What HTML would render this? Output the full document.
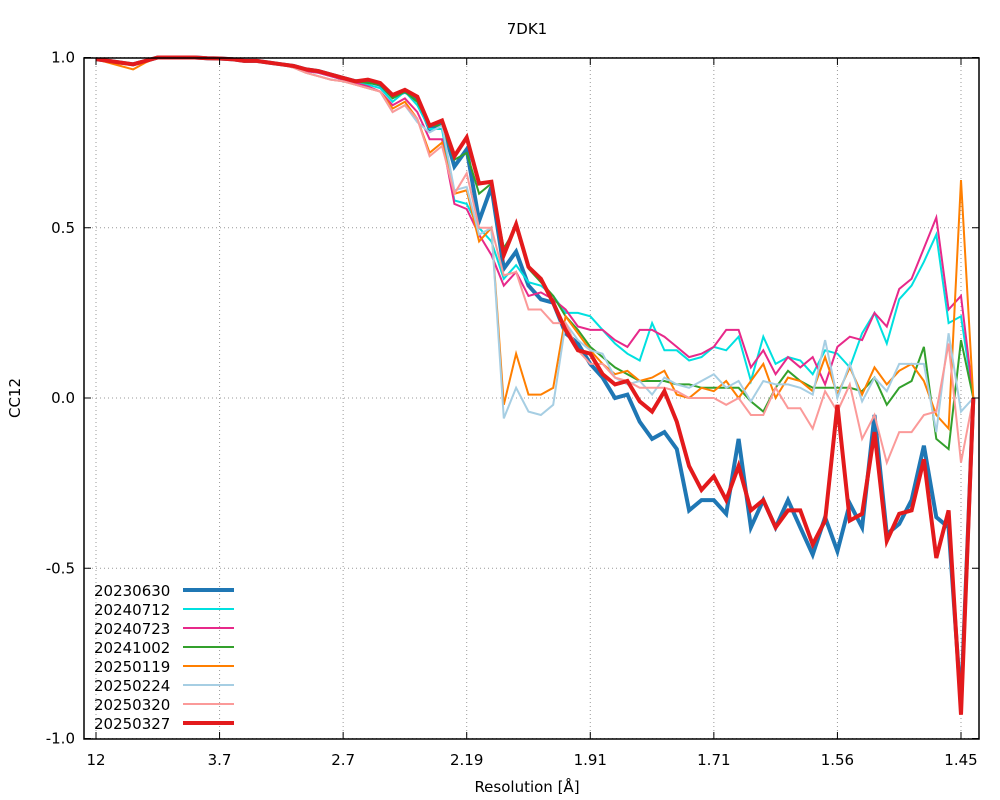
<!DOCTYPE html>
<html><head><meta charset="utf-8"><style>
body{margin:0;background:#fff;}
svg{display:block;font-family:"DejaVu Sans","Liberation Sans",sans-serif;}
</style></head><body>
<svg id="chart" width="1000" height="800" viewBox="0 0 1000 800">
<rect width="1000" height="800" fill="#fff"/>
<text x="527" y="34" font-size="15" text-anchor="middle">7DK1</text>
<text x="0" y="0" font-size="15" text-anchor="middle" transform="translate(20,398) rotate(-90)">CC12</text>
<text x="527" y="792" font-size="15" text-anchor="middle">Resolution [Å]</text>
<g id="grid"></g>
<g id="series"></g>
<rect x="84" y="58" width="895" height="681" fill="none" stroke="#000" stroke-width="1.5"/>
<g id="ticks"></g>
<g id="legend"></g>
</svg>
<script>
const xTickLabels = ["12","3.7","2.7","2.19","1.91","1.71","1.56","1.45"];
const xTickBins = [0,10,20,30,40,50,60,70];
const yTickValues = [1.0,0.5,0.0,-0.5,-1.0];
const yTickLabels = ["1.0","0.5","0.0","-0.5","-1.0"];
const seriesNames = ["20230630","20240712","20240723","20241002","20250119","20250224","20250320","20250327"];
const early = [0.995,0.99,0.985,0.98,0.99,1.0,1.0,1.0,1.0,0.998,0.997,0.995,0.99,0.99,0.985,0.98,0.975,0.965,0.96,0.95,0.94,0.93];
const s20230630 = [0.995,0.99,0.985,0.98,0.99,1.0,1.0,1.0,1.0,0.998,0.997,0.995,0.99,0.99,0.985,0.98,0.975,0.965,0.96,0.95,0.94,0.93,0.93,0.92,0.885,0.9,0.88,0.79,0.81,0.68,0.73,0.52,0.62,0.38,0.43,0.33,0.29,0.28,0.19,0.16,0.1,0.06,0.0,0.01,-0.07,-0.12,-0.1,-0.15,-0.33,-0.3,-0.3,-0.34,-0.12,-0.38,-0.3,-0.38,-0.3,-0.38,-0.46,-0.35,-0.45,-0.31,-0.38,-0.05,-0.4,-0.37,-0.3,-0.14,-0.35,-0.38,-0.9,0];
const s20240712 = [0.995,0.99,0.985,0.98,0.99,1.0,1.0,1.0,1.0,0.998,0.997,0.995,0.99,0.99,0.985,0.98,0.97,0.96,0.955,0.945,0.935,0.925,0.92,0.91,0.87,0.9,0.86,0.79,0.79,0.58,0.57,0.5,0.46,0.35,0.39,0.34,0.33,0.3,0.25,0.25,0.24,0.2,0.16,0.13,0.11,0.22,0.14,0.14,0.11,0.12,0.15,0.14,0.18,0.05,0.18,0.1,0.12,0.11,0.07,0.14,0.13,0.09,0.19,0.25,0.16,0.29,0.33,0.4,0.48,0.22,0.24,0];
const s20240723 = [0.995,0.99,0.985,0.98,0.99,1.0,1.0,1.0,1.0,0.998,0.997,0.995,0.99,0.99,0.985,0.98,0.97,0.96,0.955,0.945,0.935,0.925,0.915,0.9,0.86,0.88,0.84,0.76,0.76,0.57,0.555,0.48,0.42,0.33,0.37,0.3,0.31,0.29,0.26,0.21,0.2,0.2,0.17,0.15,0.2,0.2,0.18,0.15,0.12,0.13,0.15,0.2,0.2,0.09,0.14,0.07,0.12,0.09,0.12,0.04,0.15,0.18,0.17,0.25,0.21,0.32,0.35,0.44,0.53,0.26,0.3,0];
const s20241002 = [0.995,0.99,0.985,0.98,0.99,1.0,1.0,1.0,1.0,0.998,0.997,0.995,0.99,0.99,0.985,0.98,0.975,0.965,0.96,0.95,0.94,0.93,0.925,0.92,0.88,0.9,0.87,0.8,0.8,0.7,0.72,0.6,0.63,0.44,0.5,0.38,0.34,0.3,0.24,0.2,0.15,0.12,0.09,0.07,0.05,0.05,0.05,0.04,0.04,0.03,0.03,0.03,0.03,-0.01,-0.04,0.03,0.08,0.05,0.03,0.03,0.03,0.03,0.02,0.06,-0.02,0.03,0.05,0.15,-0.12,-0.15,0.17,0];
const s20250119 = [0.995,0.985,0.975,0.965,0.985,1.0,1.0,1.0,1.0,0.998,0.997,0.995,0.99,0.99,0.985,0.98,0.97,0.955,0.945,0.935,0.93,0.92,0.91,0.9,0.85,0.87,0.82,0.72,0.75,0.6,0.61,0.46,0.5,-0.02,0.13,0.01,0.01,0.03,0.24,0.19,0.14,0.1,0.07,0.08,0.05,0.06,0.08,0.01,0.0,0.03,0.02,0.05,0.0,0.05,0.1,0.0,0.06,0.05,0.02,0.12,0.01,0.09,0.01,0.09,0.04,0.08,0.1,0.05,-0.05,-0.09,0.64,0];
const s20250224 = [0.995,0.99,0.985,0.98,0.99,1.0,1.0,1.0,1.0,0.998,0.997,0.995,0.99,0.99,0.985,0.98,0.97,0.955,0.945,0.935,0.93,0.92,0.91,0.9,0.84,0.86,0.81,0.78,0.8,0.61,0.62,0.48,0.5,-0.06,0.03,-0.04,-0.05,-0.02,0.22,0.17,0.14,0.13,0.06,0.04,0.05,0.01,0.06,0.04,0.03,0.05,0.07,0.03,0.05,-0.01,0.05,0.04,0.04,0.03,0.01,0.17,0.0,0.1,-0.01,0.06,0.02,0.1,0.1,0.1,-0.1,0.19,-0.04,0];
const s20250320 = [0.995,0.99,0.985,0.98,0.99,1.0,1.0,1.0,1.0,0.998,0.997,0.995,0.99,0.99,0.985,0.98,0.97,0.955,0.945,0.935,0.93,0.92,0.91,0.9,0.84,0.86,0.82,0.71,0.74,0.6,0.66,0.5,0.5,0.36,0.37,0.26,0.26,0.22,0.22,0.14,0.1,0.1,0.06,0.05,0.03,0.03,0.03,0.02,0.0,0.0,0.0,-0.02,0.0,-0.05,-0.05,0.03,-0.03,-0.03,-0.09,0.02,-0.04,0.04,-0.12,-0.05,-0.19,-0.1,-0.1,-0.05,-0.04,0.16,-0.19,0];
const s20250327 = [0.995,0.99,0.985,0.98,0.99,1.0,1.0,1.0,1.0,0.998,0.997,0.995,0.99,0.99,0.985,0.98,0.975,0.965,0.96,0.95,0.94,0.93,0.935,0.925,0.89,0.905,0.885,0.8,0.815,0.71,0.765,0.63,0.635,0.42,0.51,0.385,0.35,0.28,0.2,0.14,0.13,0.07,0.04,0.05,-0.01,-0.04,0.02,-0.07,-0.2,-0.27,-0.23,-0.3,-0.2,-0.33,-0.3,-0.38,-0.33,-0.33,-0.43,-0.36,-0.02,-0.36,-0.34,-0.1,-0.42,-0.34,-0.33,-0.18,-0.47,-0.33,-0.93,0];
const seriesData = [s20230630,s20240712,s20240723,s20241002,s20250119,s20250224,s20250320,s20250327];
const colors = ["#1f77b4","#00e0e0","#e7298a","#33a02c","#ff7f00","#a6cee3","#fb9a99","#e31a1c"];
const widths = [4,2,2,2,2,2,2,4];

const NS = "http://www.w3.org/2000/svg";
const L=84,R=979,T=58,B=739;
function xs(b){return 96 + b*12.357;}
function ys(v){return 398 - v*340.5;}

const grid=document.getElementById('grid'), ticks=document.getElementById('ticks');
xTickBins.forEach((b,i)=>{
  const x=xs(b);
  const g=document.createElementNS(NS,'line');
  g.setAttribute('x1',x);g.setAttribute('x2',x);g.setAttribute('y1',T);g.setAttribute('y2',B);
  g.setAttribute('stroke','#999');g.setAttribute('stroke-dasharray','1,3');
  
  
  grid.appendChild(g);
  [[B,B-7],[T,T+7]].forEach(p=>{
    const t=document.createElementNS(NS,'line');
    t.setAttribute('x1',x);t.setAttribute('x2',x);t.setAttribute('y1',p[0]);t.setAttribute('y2',p[1]);
    t.setAttribute('stroke','#000');
    
    
    ticks.appendChild(t);
  });
  const lb=document.createElementNS(NS,'text');
  lb.setAttribute('x',x);lb.setAttribute('y',765);lb.setAttribute('font-size','15');lb.setAttribute('text-anchor','middle');
  lb.textContent=xTickLabels[i];
  
  
  ticks.appendChild(lb);
});
yTickValues.forEach((v,i)=>{
  const y=ys(v);
  const g=document.createElementNS(NS,'line');
  g.setAttribute('x1',L);g.setAttribute('x2',R);g.setAttribute('y1',y);g.setAttribute('y2',y);
  g.setAttribute('stroke','#999');g.setAttribute('stroke-dasharray','1,3');
  
  
  grid.appendChild(g);
  [[L,L+7],[R,R-7]].forEach(p=>{
    const t=document.createElementNS(NS,'line');
    t.setAttribute('x1',p[0]);t.setAttribute('x2',p[1]);t.setAttribute('y1',y);t.setAttribute('y2',y);
    t.setAttribute('stroke','#000');
    
    
    ticks.appendChild(t);
  });
  const lb=document.createElementNS(NS,'text');
  lb.setAttribute('x',75);lb.setAttribute('y',y+5);lb.setAttribute('font-size','15');lb.setAttribute('text-anchor','end');
  lb.textContent=yTickLabels[i];
  
  
  ticks.appendChild(lb);
});

const sg=document.getElementById('series'), lg=document.getElementById('legend');
seriesData.forEach((d,i)=>{
  const pts=d.map((v,b)=>xs(b).toFixed(1)+','+ys(v).toFixed(1)).join(' ');
  const pl=document.createElementNS(NS,'polyline');
  pl.setAttribute('points',pts);pl.setAttribute('fill','none');
  pl.setAttribute('stroke',colors[i]);pl.setAttribute('stroke-width',widths[i]);
  pl.setAttribute('stroke-linejoin','miter');
  
  
  sg.appendChild(pl);
  const cy=590+i*19;
  const tx=document.createElementNS(NS,'text');
  tx.setAttribute('x',94);tx.setAttribute('y',cy+6);tx.setAttribute('font-size','15');
  tx.textContent=seriesNames[i];
  
  
  lg.appendChild(tx);
  const ln=document.createElementNS(NS,'line');
  ln.setAttribute('x1',183);ln.setAttribute('x2',234);ln.setAttribute('y1',cy);ln.setAttribute('y2',cy);
  ln.setAttribute('stroke',colors[i]);ln.setAttribute('stroke-width',widths[i]);
  
  
  lg.appendChild(ln);
});
</script>
</body></html>
